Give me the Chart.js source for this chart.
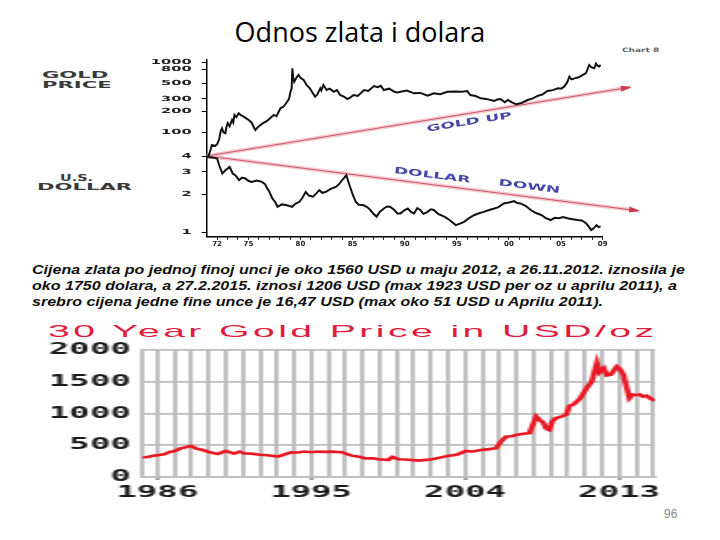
<!DOCTYPE html>
<html>
<head>
<meta charset="utf-8">
<script src="https://cdn.jsdelivr.net/npm/chart.js@4.4.0/dist/chart.umd.min.js"></script>
<style>
    body { margin: 0; background: #fff; width: 720px; height: 540px; position: relative; overflow: hidden; font-family: 'Liberation Sans', Arial, sans-serif; }
    #naslov { position: absolute; left: 0; width: 720px; top: 18px; text-align: center; font-family: 'Open Sans', sans-serif; font-size: 27px; line-height: 27px; color: #000; }
    .oznaka { position: absolute; font-family: 'DejaVu Sans', sans-serif; font-weight: bold; font-size: 9px; line-height: 9px; color: #3a3a3a; transform-origin: 0 0; white-space: nowrap; }
    #tekst { position: absolute; left: 32px; top: 262px; font-style: italic; font-weight: bold; font-size: 13px; line-height: 15.8px; white-space: nowrap; color: #111; transform: scaleX(1.235); transform-origin: 0 0; }
    #naslov30 { position: absolute; left: 48px; top: 323px; font-size: 17px; line-height: 17px; letter-spacing: 1.5px; color: #e01c3a; transform: scaleX(2.3); transform-origin: 0 0; white-space: nowrap; }
    #grafZlatoDolar { position: absolute; left: 140px; top: 44px; }
    #graf30 { position: absolute; left: 30px; top: 318px; }
    #strana { position: absolute; left: 664px; top: 508px; font-size: 12px; line-height: 12px; color: #8a8a8a; }
</style>
</head>
<body>
<div id="naslov">Odnos zlata i dolara</div>

<div class="oznaka" style="left:42px; top:70.6px; transform:scaleX(2.35)">GOLD</div>
<div class="oznaka" style="left:42px; top:80.6px; transform:scaleX(2.35)">PRICE</div>
<div class="oznaka" style="left:60px; top:174px; transform:scaleX(1.6)">U.S.</div>
<div class="oznaka" style="left:37px; top:182.5px; transform:scaleX(2.35)">DOLLAR</div>
<div class="oznaka" style="left:622px; top:47px; font-size:6px; line-height:6px; color:#666; transform:scaleX(1.5)">Chart 8</div>

<canvas id="grafZlatoDolar" width="520" height="210"></canvas>

<div id="tekst">Cijena zlata po jednoj finoj unci je oko 1560 USD u maju 2012, a 26.11.2012. iznosila je<br>oko 1750 dolara, a 27.2.2015. iznosi 1206 USD (max 1923 USD per oz u aprilu 2011), a<br>srebro cijena jedne fine unce je 16,47 USD (max oko 51 USD u Aprilu 2011).</div>

<div id="naslov30">30 Year Gold Price in USD/oz</div>
<canvas id="graf30" width="290" height="184" style="width:638px; height:184px"></canvas>

<div id="strana">96</div>

<script>
// ---- gornji grafikon: cijena zlata i dolar, log skala ----
const zlatoGodine = [
    1971.0, 1971.2, 1971.4, 1971.5, 1971.8, 1972.0, 1972.2, 1972.35, 1972.47, 1972.6,
    1972.79, 1972.9, 1973.02, 1973.2, 1973.43, 1973.55, 1973.66, 1973.85, 1974.07, 1974.3,
    1974.55, 1974.8, 1975.03, 1975.3, 1975.5, 1975.67, 1975.9, 1976.16, 1976.4, 1976.8,
    1977.1, 1977.44, 1977.7, 1978.08, 1978.4, 1978.72, 1978.9, 1979.04, 1979.15, 1979.22,
    1979.3, 1979.4, 1979.6, 1979.81, 1980.0, 1980.3, 1980.6, 1980.9, 1981.1, 1981.4,
    1981.6, 1981.9, 1982.0, 1982.2, 1982.5, 1982.8, 1983.2, 1983.5, 1983.8, 1984.2,
    1984.5, 1984.8, 1985.1, 1985.5, 1986.1, 1986.5, 1987.05, 1987.4, 1987.7, 1988.0,
    1988.5, 1989.0, 1989.3, 1989.6, 1990.2, 1990.9, 1991.5, 1992.2, 1992.8, 1993.4,
    1994.1, 1994.8, 1995.5, 1996.0, 1996.3, 1996.8, 1997.3, 1997.8, 1998.6, 1998.9,
    1999.2, 1999.6, 1999.9, 2000.3, 2000.7, 2001.2, 2001.8, 2002.3, 2002.8, 2003.2,
    2003.7, 2004.2, 2004.7, 2005.0, 2005.3, 2005.6, 2005.8, 2006.0, 2006.3, 2006.7,
    2007.1, 2007.4, 2007.7, 2007.9, 2008.2, 2008.35, 2008.5, 2008.65, 2008.8
];
const zlatoCijene = [
    43, 47, 58, 66, 64, 67, 80, 105, 114, 100,
    97, 120, 135, 122, 150, 138, 177, 165, 187, 175,
    167, 158, 150, 138, 120, 108, 118, 127, 135, 145,
    160, 177, 170, 220, 235, 273, 300, 380, 420, 820,
    600, 528, 600, 659, 600, 559, 470, 425, 380, 323,
    345, 425, 395, 474, 402, 420, 380, 400, 341, 320,
    299, 315, 341, 330, 402, 390, 458, 440, 462, 402,
    420, 380, 372, 380, 395, 360, 365, 333, 360, 350,
    380, 382, 380, 388, 341, 330, 306, 300, 280, 295,
    299, 268, 290, 268, 251, 262, 289, 305, 333, 345,
    389, 400, 425, 420, 448, 520, 622, 570, 589, 610,
    659, 700, 915, 850, 820, 960, 895, 870, 915
];
const dolarGodine = [
    1971.0, 1971.5, 1972.0, 1972.2, 1972.5, 1972.8, 1973.2, 1973.5, 1973.8, 1974.1,
    1974.4, 1974.7, 1975.0, 1975.3, 1975.8, 1976.3, 1976.6, 1976.8, 1977.0, 1977.3,
    1977.6, 1977.8, 1978.2, 1978.6, 1979.2, 1979.5, 1979.9, 1980.2, 1980.5, 1980.8,
    1981.2, 1981.5, 1981.8, 1982.1, 1982.4, 1982.9, 1983.4, 1983.7, 1984.0, 1984.4,
    1984.7, 1985.0, 1985.3, 1985.6, 1986.0, 1986.4, 1986.7, 1987.0, 1987.3, 1987.6,
    1988.0, 1988.3, 1988.6, 1989.0, 1989.3, 1989.6, 1990.0, 1990.3, 1990.6, 1990.9,
    1991.2, 1991.5, 1991.8, 1992.2, 1992.5, 1992.8, 1993.2, 1993.8, 1994.3, 1994.9,
    1995.3, 1995.7, 1996.2, 1996.7, 1997.2, 1997.6, 1998.1, 1998.6, 1999.0, 1999.5,
    2000.0, 2000.5, 2000.8, 2001.1, 2001.6, 2002.1, 2002.6, 2003.1, 2003.5, 2004.0,
    2004.4, 2004.8, 2005.2, 2005.6, 2006.1, 2006.6, 2007.0, 2007.4, 2007.7, 2007.9,
    2008.1, 2008.4, 2008.6, 2008.8
];
const dolarVrijednosti = [
    3.93, 3.90, 3.82, 3.38, 2.91, 3.09, 3.28, 2.91, 2.80, 2.58,
    2.70, 2.66, 2.55, 2.50, 2.56, 2.50, 2.40, 2.22, 2.10, 1.85,
    1.72, 1.59, 1.66, 1.64, 1.59, 1.68, 1.74, 1.88, 2.08, 1.95,
    1.91, 2.02, 2.15, 2.05, 2.08, 2.20, 2.28, 2.40, 2.58, 2.82,
    2.35, 2.00, 1.74, 1.65, 1.64, 1.58, 1.50, 1.40, 1.33, 1.45,
    1.54, 1.60, 1.59, 1.50, 1.41, 1.41, 1.50, 1.54, 1.45, 1.41,
    1.55, 1.50, 1.40, 1.45, 1.52, 1.50, 1.40, 1.33, 1.25, 1.14,
    1.17, 1.21, 1.30, 1.37, 1.42, 1.45, 1.50, 1.54, 1.58, 1.69,
    1.72, 1.76, 1.70, 1.69, 1.62, 1.50, 1.42, 1.37, 1.30, 1.25,
    1.30, 1.29, 1.32, 1.29, 1.27, 1.25, 1.24, 1.18, 1.10, 1.04,
    1.07, 1.14, 1.10, 1.11
];
const zlatoTicks = [1000, 800, 500, 300, 200, 100];
const dolarTicks = [4, 3, 2, 1];
const gornjeGodine = [1972, 1975, 1980, 1985, 1990, 1995, 2000, 2005, 2009];
const gornjeOznake = ['72', '75', '80', '85', '90', '95', '00', '05', '09'];
// trend strelice [godina, vrijednost]
const strelicaZlatoGodine = [1971, 2011.6];
const strelicaZlatoVrijednosti = [45.8, 440];
const strelicaDolarGodine = [1971, 2012.4];
const strelicaDolarVrijednosti = [4.0, 1.48];

// ---- donji grafikon: 30 godina cijene zlata ----
const cijenaGodine = [
    1985.15, 1985.5, 1985.8, 1986.1, 1986.4, 1986.78, 1987.0, 1987.37, 1987.7, 1987.96,
    1988.35, 1988.6, 1988.94, 1989.3, 1989.53, 1990.0, 1990.5, 1990.8, 1991.1, 1991.5,
    1992.0, 1992.27, 1992.7, 1993.06, 1993.5, 1993.84, 1994.2, 1994.6, 1995.0, 1995.4,
    1995.8, 1996.2, 1996.8, 1997.37, 1997.8, 1998.15, 1998.6, 1998.94, 1999.5, 1999.75,
    2000.1, 2000.5, 2001.3, 2002.08, 2002.6, 2003.06, 2003.5, 2004.04, 2004.4, 2004.82,
    2005.3, 2005.8, 2006.1, 2006.39, 2006.7, 2006.98, 2007.4, 2007.76, 2008.15, 2008.35,
    2008.55, 2008.75, 2008.92, 2009.1, 2009.3, 2009.6, 2009.9, 2010.1, 2010.3, 2010.7,
    2011.1, 2011.4, 2011.55, 2011.7, 2011.85, 2012.1, 2012.3, 2012.5, 2012.86, 2013.05,
    2013.25, 2013.45, 2013.6, 2013.8, 2014.0, 2014.2, 2014.4, 2014.6, 2014.8, 2015.1
];
const cijenaUsd = [
    305, 320, 336, 345, 357, 400, 405, 452, 470, 489,
    442, 430, 400, 375, 363, 410, 368, 400, 370, 368,
    350, 347, 335, 321, 360, 389, 385, 400, 390, 400,
    395, 400, 389, 336, 320, 294, 295, 279, 268, 315,
    279, 275, 258, 279, 310, 336, 350, 410, 400, 420,
    435, 452, 560, 636, 640, 662, 680, 689, 952, 900,
    862, 760, 741, 880, 925, 950, 978, 1120, 1136, 1230,
    1398, 1500, 1650, 1793, 1650, 1714, 1600, 1609, 1740, 1700,
    1609, 1400, 1241, 1300, 1293, 1300, 1267, 1280, 1241, 1199
];
const donjeYTicks = [0, 500, 1000, 1500, 2000];
const donjeGodine = [1986, 1995, 2004, 2013];

function parovi(xs, ys) {
    return xs.map((x, i) => ({ x: x, y: ys[i] }));
}

// rastegnute oznake na y osi gornjeg grafikona + strelice i tekst
const gornjiDodaci = {
    id: 'gornjiDodaci',
    afterDatasetsDraw(chart) {
        const ctx = chart.ctx;
        chart.data.datasets.forEach((ds, i) => {
            if (!ds.strelica) return;
            const pts = chart.getDatasetMeta(i).data;
            const a = pts[0], b = pts[pts.length - 1];
            const ugao = Math.atan2(b.y - a.y, b.x - a.x);
            ctx.save();
            ctx.translate(b.x, b.y);
            ctx.rotate(ugao);
            ctx.fillStyle = '#c83a4c';
            ctx.beginPath();
            ctx.moveTo(2, 0);
            ctx.lineTo(-9, -3);
            ctx.lineTo(-9, 3);
            ctx.closePath();
            ctx.fill();
            ctx.restore();

            // natpis uz strelicu
            ctx.save();
            ctx.fillStyle = '#4646a6';
            ctx.font = 'bold 9px "DejaVu Sans"';
            ctx.textBaseline = 'middle';
            ctx.textAlign = 'center';
            ds.natpisi.forEach(n => {
                const x = a.x + (b.x - a.x) * n.t;
                const y = a.y + (b.y - a.y) * n.t;
                ctx.save();
                ctx.translate(x, y);
                ctx.rotate(ugao);
                ctx.translate(0, n.pomak);
                ctx.scale(1.9, 1);
                ctx.fillText(n.tekst, 0, 0);
                ctx.restore();
            });
            ctx.restore();
        });
    },
    afterDraw(chart) {
        const ctx = chart.ctx;
        ['yZlato', 'yDolar'].forEach(id => {
            const s = chart.scales[id];
            s.ticks.forEach(t => {
                const y = s.getPixelForValue(t.value);
                ctx.save();
                ctx.translate(s.right - 15, y);
                ctx.scale(2.1, 1);
                ctx.font = 'bold 7px "DejaVu Sans"';
                ctx.textAlign = 'right';
                ctx.textBaseline = 'middle';
                ctx.fillStyle = '#222';
                ctx.fillText(String(t.value), 0, 0);
                ctx.restore();
            });
        });
    }
};

const osaY = (min, max, ticks, tezina) => ({
    type: 'logarithmic',
    position: 'left',
    stack: 'lijevo',
    stackWeight: tezina,
    min: min,
    max: max,
    afterBuildTicks: s => { s.ticks = ticks.map(v => ({ value: v })); },
    afterFit: s => { s.width = 66.7; },
    ticks: { display: false },
    grid: { drawOnChartArea: false, tickLength: 5, color: '#000', lineWidth: 1 },
    border: { color: '#000', width: 1.5 }
});

new Chart(document.getElementById('grafZlatoDolar'), {
    type: 'line',
    data: {
        datasets: [
            { data: parovi(zlatoGodine, zlatoCijene), yAxisID: 'yZlato', borderColor: '#111', borderWidth: 2 },
            { data: parovi(dolarGodine, dolarVrijednosti), yAxisID: 'yDolar', borderColor: '#111', borderWidth: 2 },
            { data: parovi(strelicaZlatoGodine, strelicaZlatoVrijednosti), yAxisID: 'yZlato', borderColor: 'rgba(238,140,155,0.45)', borderWidth: 4, clip: false },
            { data: parovi(strelicaDolarGodine, strelicaDolarVrijednosti), yAxisID: 'yDolar', borderColor: 'rgba(238,140,155,0.45)', borderWidth: 4, clip: false },
            {
                data: parovi(strelicaZlatoGodine, strelicaZlatoVrijednosti), yAxisID: 'yZlato', borderColor: '#a8303f', borderWidth: 1.2, clip: false,
                strelica: true, natpisi: [{ tekst: 'GOLD UP', t: 0.617, pomak: 9 }]
            },
            {
                data: parovi(strelicaDolarGodine, strelicaDolarVrijednosti), yAxisID: 'yDolar', borderColor: '#a8303f', borderWidth: 1.2, clip: false,
                strelica: true, natpisi: [{ tekst: 'DOLLAR', t: 0.52, pomak: -9 }, { tekst: 'DOWN', t: 0.745, pomak: -10 }]
            }
        ]
    },
    options: {
        responsive: false,
        devicePixelRatio: 1,
        animation: false,
        elements: { point: { radius: 0 }, line: { tension: 0 } },
        layout: { padding: { top: 16, right: 57.3, bottom: 0, left: 0 } },
        plugins: { legend: { display: false }, tooltip: { enabled: false } },
        scales: {
            x: {
                type: 'linear',
                min: 1971,
                max: 2009,
                afterBuildTicks: s => {
                    const t = [];
                    for (let g = 1972; g <= 2009; g++) t.push({ value: g });
                    s.ticks = t;
                },
                afterFit: s => { s.height = 17.3; },
                ticks: {
                    autoSkip: false,
                    maxRotation: 0,
                    padding: 0,
                    color: '#222',
                    font: { family: 'DejaVu Sans', size: 7, weight: 'bold' },
                    callback: v => {
                        const i = gornjeGodine.indexOf(v);
                        return i >= 0 ? gornjeOznake[i] : '';
                    }
                },
                grid: { drawOnChartArea: false, tickLength: 3, color: '#000' },
                border: { color: '#000', width: 1.5 }
            },
            yDolar: osaY(0.9234, 4.0, dolarTicks, 80.7),
            yZlato: osaY(45.8, 1079, zlatoTicks, 96)
        }
    },
    plugins: [gornjiDodaci]
});

// donji grafikon je rastegnut CSS-om po širini (kao na slici)
new Chart(document.getElementById('graf30'), {
    type: 'line',
    data: {
        datasets: [{
            data: parovi(cijenaGodine, cijenaUsd),
            borderColor: 'rgb(232,24,36)',
            borderWidth: 2.6,
            pointRadius: 0,
            tension: 0
        }]
    },
    options: {
        responsive: false,
        devicePixelRatio: 1,
        animation: false,
        layout: { padding: { top: 32, right: 5.9, bottom: 0, left: 0 } },
        plugins: { legend: { display: false }, tooltip: { enabled: false } },
        scales: {
            x: {
                type: 'linear',
                min: 1985.1,
                max: 2015.1,
                afterBuildTicks: s => {
                    const t = [];
                    for (let g = 1986; g <= 2015; g++) t.push({ value: g });
                    s.ticks = t;
                },
                afterFit: s => { s.height = 25; },
                ticks: {
                    autoSkip: false,
                    maxRotation: 0,
                    padding: 4,
                    color: '#1a1a1a',
                    font: { family: 'DejaVu Sans Mono', size: 15.5, weight: 'bold' },
                    callback: v => donjeGodine.includes(v) ? String(v) : ''
                },
                grid: {
                    color: '#bdbdbd',
                    lineWidth: 1.9,
                    tickLength: 3,
                    tickColor: c => (c.tick && donjeGodine.includes(c.tick.value)) ? '#9a9a9a' : 'rgba(0,0,0,0)'
                },
                border: { color: '#bdbdbd', width: 1.7 }
            },
            y: {
                min: 0,
                max: 2000,
                afterBuildTicks: s => { s.ticks = donjeYTicks.map(v => ({ value: v })); },
                afterFit: s => { s.width = 50.8; },
                ticks: {
                    padding: 5,
                    color: '#1a1a1a',
                    font: { family: 'DejaVu Sans Mono', size: 15.5, weight: 'bold' },
                    callback: v => String(v)
                },
                grid: { color: '#bdbdbd', lineWidth: 1.7, drawTicks: false },
                border: { color: '#bdbdbd', width: 1.9 }
            }
        }
    }
});
</script>
</body>
</html>
